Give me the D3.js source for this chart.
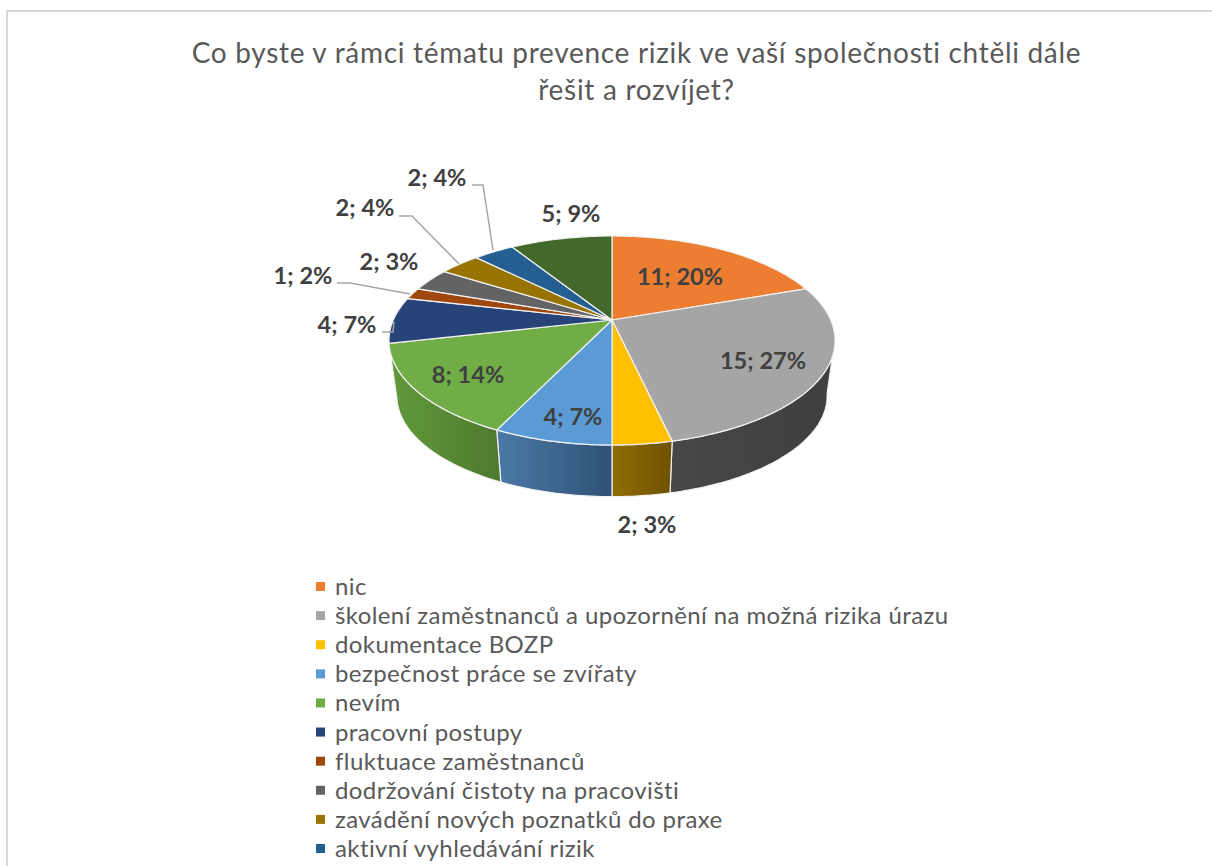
<!DOCTYPE html>
<html>
<head>
<meta charset="utf-8">
<script src="https://cdn.jsdelivr.net/npm/d3@7"></script>
<style>
  html, body { margin: 0; padding: 0; background: #fff; overflow: hidden; }
  text { font-family: Lato, "Open Sans", sans-serif; }
</style>
</head>
<body>
<script>
// chart values
const categories = [
  'nic',
  'školení zaměstnanců a upozornění na možná rizika úrazu',
  'dokumentace BOZP',
  'bezpečnost práce se zvířaty',
  'nevím',
  'pracovní postupy',
  'fluktuace zaměstnanců',
  'dodržování čistoty na pracovišti',
  'zavádění nových poznatků do praxe',
  'aktivní vyhledávání rizik',
  'ostatní'
];
const counts = [11, 15, 2, 4, 8, 4, 1, 2, 2, 2, 5];
const percents = [20, 27, 3, 7, 14, 7, 2, 3, 4, 4, 9];
const titleLines = [
  'Co byste v rámci tématu prevence rizik ve vaší společnosti chtěli dále',
  'řešit a rozvíjet?'
];
const legendCount = 10; // the legend is cut off by the picture after ten rows

const colors = ['#ED7D31', '#A5A5A5', '#FFC000', '#5B9BD5', '#70AD47', '#264478', '#9E480E', '#636363', '#997300', '#255E91', '#43682B'];
const sideColors = {
  1: ['#474747', '#3f3f3f'],
  2: ['#8f6c05', '#6e5200'],
  3: ['#4a79a6', '#2f5276'],
  4: ['#619a3b', '#4e792e']
};

// label centres and leader lines, by slice index
const labelPos = [[680, 277], [763, 361], [647, 525], [573, 417], [468, 375], [347, 325], [303, 276], [389, 262], [365, 208], [437, 178], [571, 214]];
const leaders = {
  5: [[382, 332], [393, 332], [394, 322]],
  6: [[337, 283], [350, 283], [410, 294]],
  8: [[399, 216], [412, 216], [459, 264]],
  9: [[472, 185], [483, 185], [493, 250]]
};

const width = 1212;
const height = 866;

const svg = d3.select('body').append('svg')
  .attr('width', width)
  .attr('height', height);
const defs = svg.append('defs');

// frame: top and left only, the rest is outside the crop
svg.append('path')
  .attr('d', 'M1212,11 H7 V866')
  .attr('fill', 'none')
  .attr('stroke', '#d9d9d9')
  .attr('stroke-width', 2);

svg.append('g').selectAll('text')
  .data(titleLines)
  .enter().append('text')
  .attr('x', 636.5)
  .attr('y', (d, i) => 63 + i * 37)
  .attr('text-anchor', 'middle')
  .attr('font-size', 28)
  .attr('letter-spacing', 0.7)
  .attr('fill', '#595959')
  .text(d => d);

// perspective tilt of the pie: near edge is bigger than far edge
const tilt = 0.196;
const topX = d3.scaleLinear().domain([-1, 1]).range([612 - 218.7, 612 + 218.7]);
const topY = d3.scaleLinear().domain([-1, 1]).range([320 - 100.5, 320 + 100.5]);
const botX = d3.scaleLinear().domain([-1, 1]).range([612 - 211, 612 + 211]);
const botY = d3.scaleLinear().domain([-1, 1]).range([376 - 97, 376 + 97]);

function project(angle, sx, sy) {
  const X = Math.sin(angle);
  const Y = -Math.cos(angle);
  const w = 1 - tilt * Y;
  return [sx(X / w), sy(Y / w)];
}

function arcAngles(a0, a1) {
  const n = Math.max(2, Math.ceil((a1 - a0) / 0.02));
  return d3.range(n + 1).map(i => a0 + (a1 - a0) * i / n);
}

const slices = d3.pie().sort(null).startAngle(0).endAngle(2 * Math.PI)(counts);
const line = d3.line();

// side wall, only where the rim faces the viewer
const sideStart = 100 * Math.PI / 180;
const sideEnd = 260 * Math.PI / 180;
const sides = svg.append('g');
slices.forEach((s, i) => {
  const a0 = Math.max(s.startAngle, sideStart);
  const a1 = Math.min(s.endAngle, sideEnd);
  if (a1 <= a0 || !sideColors[i]) return;
  const angles = arcAngles(a0, a1);
  const upper = angles.map(a => project(a, topX, topY));
  const lower = angles.map(a => project(a, botX, botY)).reverse();
  const pts = upper.concat(lower);
  const xs = pts.map(p => p[0]);

  const grad = defs.append('linearGradient')
    .attr('id', 'side' + i)
    .attr('gradientUnits', 'userSpaceOnUse')
    .attr('x1', d3.min(xs)).attr('x2', d3.max(xs))
    .attr('y1', 0).attr('y2', 0);
  grad.append('stop').attr('offset', 0).attr('stop-color', sideColors[i][0]);
  grad.append('stop').attr('offset', 1).attr('stop-color', sideColors[i][1]);

  sides.append('path')
    .attr('d', line(pts) + 'Z')
    .attr('fill', 'url(#side' + i + ')')
    .attr('stroke', '#f2f2f2')
    .attr('stroke-width', 1.2);
});

// top face
svg.append('g').selectAll('path')
  .data(slices)
  .enter().append('path')
  .attr('d', s => {
    const rim = arcAngles(s.startAngle, s.endAngle).map(a => project(a, topX, topY));
    return line([[topX(0), topY(0)]].concat(rim)) + 'Z';
  })
  .attr('fill', (s, i) => colors[i])
  .attr('stroke', '#f2f2f2')
  .attr('stroke-width', 1.2)
  .attr('stroke-linejoin', 'round');

// leader lines
svg.append('g').selectAll('path')
  .data(Object.values(leaders))
  .enter().append('path')
  .attr('d', d => line(d))
  .attr('fill', 'none')
  .attr('stroke', '#a6a6a6')
  .attr('stroke-width', 1.5);

// data labels
svg.append('g').selectAll('text')
  .data(counts)
  .enter().append('text')
  .attr('x', (d, i) => labelPos[i][0])
  .attr('y', (d, i) => labelPos[i][1] + 8)
  .attr('text-anchor', 'middle')
  .attr('font-size', 23.6)
  .attr('font-weight', 700)
  .attr('fill', '#404040')
  .text((d, i) => d + '; ' + percents[i] + '%');

// legend
const legendY = d3.scaleLinear().domain([0, 9]).range([587, 849]);
const legend = svg.append('g').selectAll('g')
  .data(categories.slice(0, legendCount))
  .enter().append('g')
  .attr('transform', (d, i) => `translate(316, ${legendY(i)})`);
legend.append('rect')
  .attr('x', 0).attr('y', -5)
  .attr('width', 9).attr('height', 9)
  .attr('fill', (d, i) => colors[i]);
legend.append('text')
  .attr('x', 19)
  .attr('y', 8)
  .attr('font-size', 24)
  .attr('letter-spacing', 0.4)
  .attr('fill', '#595959')
  .text(d => d);
</script>
</body>
</html>
